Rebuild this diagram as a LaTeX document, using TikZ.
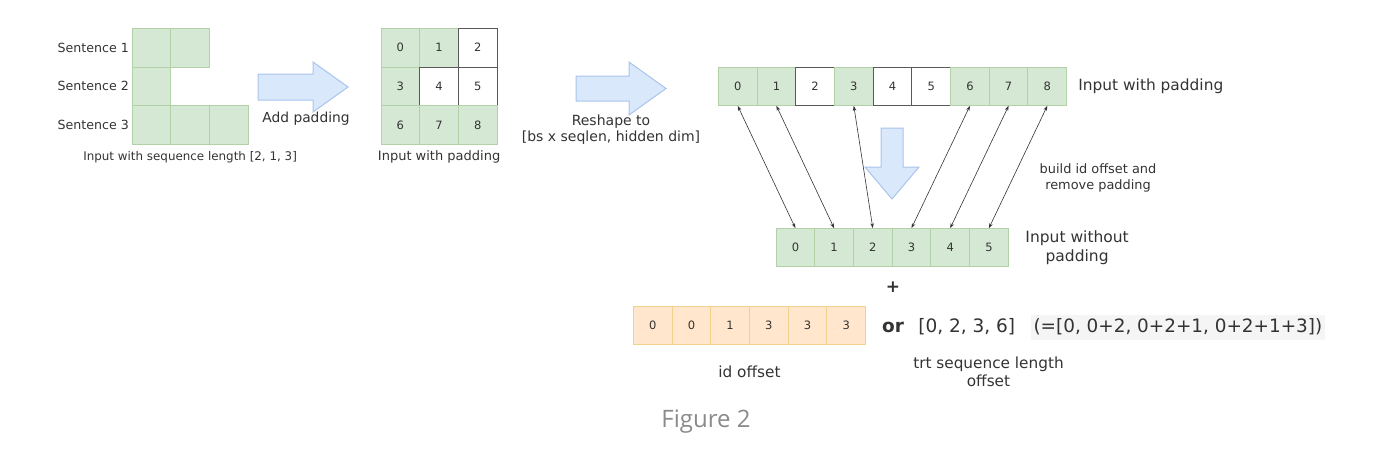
\documentclass[tikz,border=0pt]{standalone}
\usepackage{fontspec}
\setmainfont{DejaVu Sans}
\newfontfamily\figfont{Open Sans}
\usetikzlibrary{positioning,arrows.meta}

\definecolor{cellgreen}{HTML}{D5E8D4}
\definecolor{linegreen}{HTML}{B3D1A6}
\definecolor{cellorange}{HTML}{FFE6CC}
\definecolor{lineorange}{HTML}{F2D08E}
\definecolor{arrowblue}{HTML}{DAE8FC}
\definecolor{lineblue}{HTML}{A9C4EB}
\definecolor{textgray}{HTML}{333333}
\definecolor{codegray}{HTML}{F5F5F5}
\definecolor{figgray}{HTML}{8A8A8A}

\newcommand{\fsz}[2]{\fontsize{#1}{#2}\selectfont}

\tikzset{
    cell/.style={minimum size=38.7pt, inner sep=0pt, outer sep=0pt, line width=1pt,
        text=textgray, font=\fsz{11.5}{13}},
    gcell/.style={cell, fill=cellgreen, draw=linegreen},
    wcell/.style={cell, fill=white, draw=black!65},
    ocell/.style={cell, fill=cellorange, draw=lineorange},
    blockarrow/.style={fill=arrowblue, draw=lineblue, line width=1pt, line join=miter},
    txt/.style={inner sep=0pt, text=textgray, align=center},
    link/.style={<->, >={Stealth[length=5pt,width=3.5pt]}, line width=0.6pt, draw=black!80},
}

\begin{document}
\begin{tikzpicture}[x=1pt,y=-1pt]
    \useasboundingbox (0,0) rectangle (1386,450);
    %% Sentences
    \node[gcell] (l11) at (151.4,47.7) {};
    \node[gcell,right=0pt of l11] (l12) {};
    \node[gcell,below=0pt of l11] (l21) {};
    \node[gcell,below=0pt of l21] (l31) {};
    \node[gcell,right=0pt of l31] (l32) {};
    \node[gcell,right=0pt of l32] (l33) {};
    \node[txt,font=\fsz{12.6}{14},left=3pt of l11] (s1) {Sentence 1};
    \node[txt,font=\fsz{12.6}{14},left=3pt of l21] (s2) {Sentence 2};
    \node[txt,font=\fsz{12.6}{14},left=3pt of l31] (s3) {Sentence 3};
    \node[txt,font=\fsz{11.9}{14},below=7pt of l32] (cap1) {Input with sequence length [2, 1, 3]};
    %% Padded grid
    \node[gcell] (m0) at (400.4,47.7) {0};
    \node[gcell,right=0pt of m0] (m1) {1};
    \node[wcell,right=0pt of m1] (m2) {2};
    \node[gcell,below=0pt of m0] (m3) {3};
    \node[wcell,right=0pt of m3] (m4) {4};
    \node[wcell,right=0pt of m4] (m5) {5};
    \node[gcell,below=0pt of m3] (m6) {6};
    \node[gcell,right=0pt of m6] (m7) {7};
    \node[gcell,right=0pt of m7] (m8) {8};
    \node[txt,font=\fsz{13}{15},below=6pt of m7] (cap2) {Input with padding};
    %% Big arrows
    \draw[blockarrow] (258,74) -- (313,74) -- (313,62) -- (348,87) -- (313,112)
        -- (313,100) -- (258,100) -- cycle;
    \node[txt,font=\fsz{13.8}{16}] (pad) at (306,119) {Add padding};
    \draw[blockarrow] (576,76) -- (629,76) -- (629,62) -- (666,88.5) -- (629,115)
        -- (629,101) -- (576,101) -- cycle;
    \node[txt,font=\fsz{14}{15.5}] (reshape) at (611,129.5) {Reshape to\\{[bs x seqlen, hidden dim]}};
    \draw[blockarrow] (881,128) -- (903,128) -- (903,167) -- (919,167) -- (892,199)
        -- (865,167) -- (881,167) -- cycle;
    %% Flat input with padding
    \node[gcell] (t0) at (737.7,86.5) {0};
    \node[gcell,right=0pt of t0] (t1) {1};
    \node[wcell,right=0pt of t1] (t2) {2};
    \node[gcell,right=0pt of t2] (t3) {3};
    \node[wcell,right=0pt of t3] (t4) {4};
    \node[wcell,right=0pt of t4] (t5) {5};
    \node[gcell,right=0pt of t5] (t6) {6};
    \node[gcell,right=0pt of t6] (t7) {7};
    \node[gcell,right=0pt of t7] (t8) {8};
    \node[txt,font=\fsz{15.4}{18},right=11.5pt of t8] (top) {Input with padding};
    %% Input without padding
    \node[gcell] (b0) at (795.4,247.5) {0};
    \node[gcell,right=0pt of b0] (b1) {1};
    \node[gcell,right=0pt of b1] (b2) {2};
    \node[gcell,right=0pt of b2] (b3) {3};
    \node[gcell,right=0pt of b3] (b4) {4};
    \node[gcell,right=0pt of b4] (b5) {5};
    \node[txt,font=\fsz{15.5}{18.5},right=17pt of b5] (bot) {Input without\\padding};
    \node[txt,font=\fsz{12.9}{16}] (build) at (1098,178) {build id offset and\\remove padding};
    %% Links
    \draw[link] (t0.south) -- (b0.north);
    \draw[link] (t1.south) -- (b1.north);
    \draw[link] (t3.south) -- (b2.north);
    \draw[link] (t6.south) -- (b3.north);
    \draw[link] (t7.south) -- (b4.north);
    \draw[link] (t8.south) -- (b5.north);
    %% Offsets
    \node[txt,font=\bfseries\fsz{17}{19}] (plus) at (893,287) {+};
    \node[ocell] (o0) at (652.7,325.5) {0};
    \node[ocell,right=0pt of o0] (o1) {0};
    \node[ocell,right=0pt of o1] (o2) {1};
    \node[ocell,right=0pt of o2] (o3) {3};
    \node[ocell,right=0pt of o3] (o4) {3};
    \node[ocell,right=0pt of o4] (o5) {3};
    \node[txt,font=\fsz{15.3}{18},below=21pt of o2.south east] (idoff) {id offset};
    \node[txt,font=\bfseries\fsz{18.5}{20}] (or) at (893,327) {or};
    \node[txt,font=\fsz{18.5}{20},right=14pt of or] (seq) {[0, 2, 3, 6]};
    \node[txt,font=\fsz{18.4}{20},fill=codegray,inner sep=3pt,minimum height=25pt,
        right=15pt of seq] (code) {(=[0, 0+2, 0+2+1, 0+2+1+3])};
    \node[txt,font=\fsz{15.3}{18.5}] (trt) at (988.5,372) {trt sequence length\\offset};
    %% Caption
    \node[txt,font=\figfont\fsz{24}{28},text=figgray] (fig) at (706,422) {Figure 2};
\end{tikzpicture}
\end{document}
